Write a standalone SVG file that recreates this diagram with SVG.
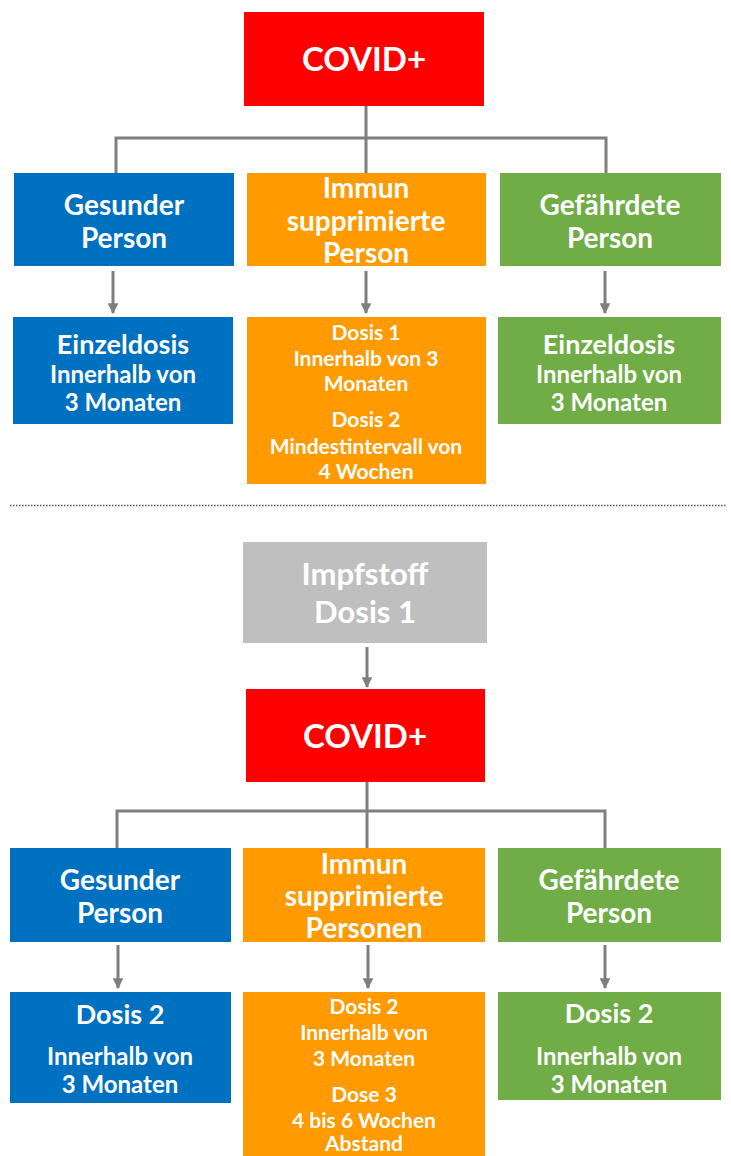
<svg xmlns="http://www.w3.org/2000/svg" width="731" height="1156" viewBox="0 0 731 1156">
<style>
text{font-family:Lato,"Liberation Sans",sans-serif;font-weight:700;fill:#fff;text-anchor:middle;dominant-baseline:central}
.big{font-size:33px}
.im{font-size:31px}
.h{font-size:28px}
.m{font-size:27px}
.s{font-size:24px}
.xs{font-size:21px}
.red{fill:#FF0000}.blue{fill:#0070C0}.orange{fill:#FF9A00}.green{fill:#70AD47}.gray{fill:#BFBFBF}
.c{fill:none;stroke:#7F7F7F;stroke-width:3}
.a{fill:none;stroke:#7F7F7F;stroke-width:3;marker-end:url(#ah)}
</style>
<defs>
<marker id="ah" viewBox="0 0 10 10" refX="9" refY="5" markerWidth="3.6" markerHeight="3.6" orient="auto" markerUnits="strokeWidth">
<path d="M0,0L10,5L0,10z" fill="#7F7F7F"/>
</marker>
</defs>
<rect width="731" height="1156" fill="#fff"/>
<g id="connectors">
<path class="c" d="M366,106V138M116,173V138H606V173M366,138V173"/>
<path class="a" d="M113,271V313"/>
<path class="a" d="M366,271V313"/>
<path class="a" d="M605,271V313"/>
<path class="a" d="M367,647V687"/>
<path class="c" d="M367,782V811M117,848V811H605V848M367,811V848"/>
<path class="a" d="M118,945V988"/>
<path class="a" d="M368,945V988"/>
<path class="a" d="M605,945V988"/>
<line x1="10" y1="505.5" x2="727" y2="505.5" stroke="#555" stroke-width="1.5" stroke-dasharray="1.5 1.5"/>
</g>
<g id="covid1"><rect class="red" x="244" y="12" width="240" height="94"/><text class="big" x="364" y="58">COVID+</text></g>
<g id="gesund1"><rect class="blue" x="14" y="173" width="220" height="93"/><text class="h" x="124" y="204">Gesunder</text><text class="h" x="124" y="237">Person</text></g>
<g id="immun1"><rect class="orange" x="247" y="173" width="239" height="93"/><text class="h" x="366" y="187">Immun</text><text class="h" x="366" y="220">supprimierte</text><text class="h" x="366" y="252">Person</text></g>
<g id="gefahr1"><rect class="green" x="500" y="173" width="221" height="93"/><text class="h" x="610" y="204">Gefährdete</text><text class="h" x="610" y="237">Person</text></g>
<g id="dosis_g1"><rect class="blue" x="13" y="317" width="220" height="107"/><text class="m" x="123" y="343">Einzeldosis</text><text class="s" x="123" y="373">Innerhalb von</text><text class="s" x="123" y="401">3 Monaten</text></g>
<g id="dosis_i1"><rect class="orange" x="247" y="317" width="239" height="167"/><text class="xs" x="366" y="331">Dosis 1</text><text class="xs" x="366" y="357">Innerhalb von 3</text><text class="xs" x="366" y="382">Monaten</text><text class="xs" x="366" y="418">Dosis 2</text><text class="xs" x="366" y="445">Mindestintervall von</text><text class="xs" x="366" y="470">4 Wochen</text></g>
<g id="dosis_f1"><rect class="green" x="498" y="317" width="223" height="107"/><text class="m" x="609" y="343">Einzeldosis</text><text class="s" x="609" y="373">Innerhalb von</text><text class="s" x="609" y="401">3 Monaten</text></g>
<g id="impf"><rect class="gray" x="243" y="542" width="244" height="101"/><text class="im" x="365" y="573">Impfstoff</text><text class="im" x="365" y="611">Dosis 1</text></g>
<g id="covid2"><rect class="red" x="246" y="689" width="239" height="93"/><text class="big" x="365" y="735">COVID+</text></g>
<g id="gesund2"><rect class="blue" x="10" y="848" width="221" height="94"/><text class="h" x="120" y="879">Gesunder</text><text class="h" x="120" y="912">Person</text></g>
<g id="immun2"><rect class="orange" x="243" y="848" width="242" height="94"/><text class="h" x="364" y="863">Immun</text><text class="h" x="364" y="895">supprimierte</text><text class="h" x="364" y="927">Personen</text></g>
<g id="gefahr2"><rect class="green" x="498" y="848" width="223" height="94"/><text class="h" x="609" y="879">Gefährdete</text><text class="h" x="609" y="912">Person</text></g>
<g id="dosis_g2"><rect class="blue" x="10" y="992" width="221" height="111"/><text class="m" x="120" y="1013">Dosis 2</text><text class="s" x="120" y="1055">Innerhalb von</text><text class="s" x="120" y="1083">3 Monaten</text></g>
<g id="dosis_i2"><rect class="orange" x="243" y="992" width="242" height="164"/><text class="xs" x="364" y="1005">Dosis 2</text><text class="xs" x="364" y="1031">Innerhalb von</text><text class="xs" x="364" y="1057">3 Monaten</text><text class="xs" x="364" y="1093">Dose 3</text><text class="xs" x="364" y="1119">4 bis 6 Wochen</text><text class="xs" x="364" y="1142">Abstand</text></g>
<g id="dosis_f2"><rect class="green" x="498" y="992" width="223" height="108"/><text class="m" x="609" y="1012">Dosis 2</text><text class="s" x="609" y="1055">Innerhalb von</text><text class="s" x="609" y="1083">3 Monaten</text></g>
</svg>
